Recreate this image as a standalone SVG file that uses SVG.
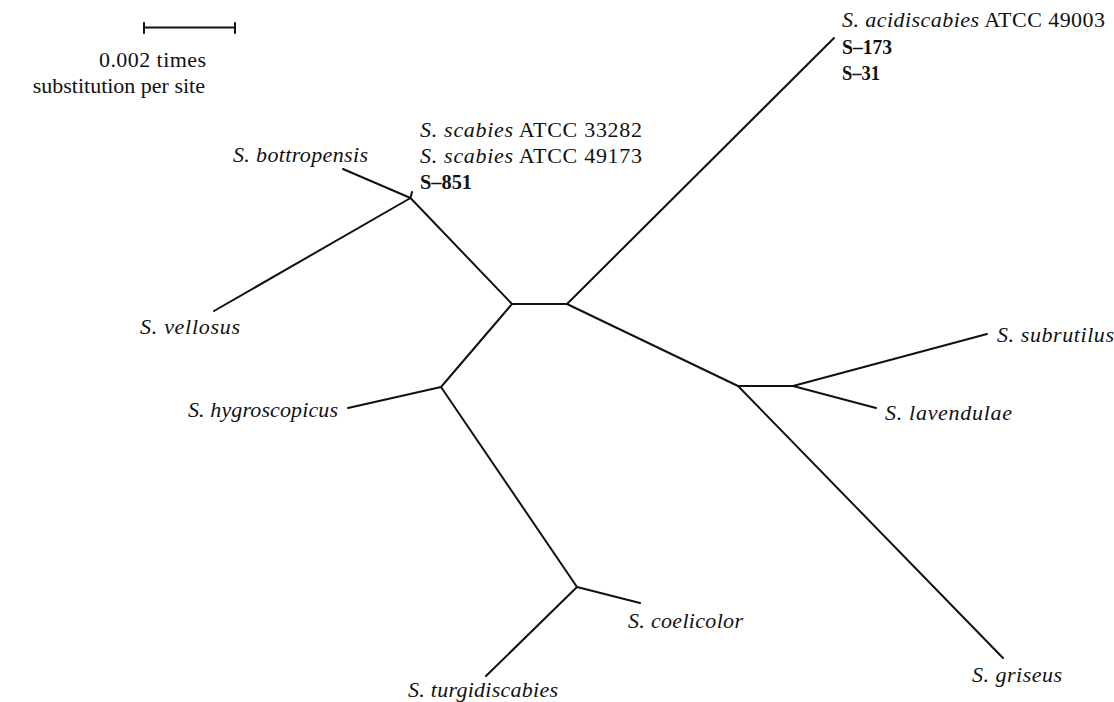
<svg xmlns="http://www.w3.org/2000/svg" width="1114" height="702" viewBox="0 0 1114 702">
<style>
text{font-family:"Liberation Serif","Times New Roman",serif;font-size:22px;fill:#111}
.i{font-style:italic}
.b{font-weight:bold;font-size:21px}
.e{stroke:#111;stroke-width:2;fill:none;stroke-linecap:round}
</style>
<rect width="1114" height="702" fill="#fff"/>
<g id="scale">
<path class="e" d="M144 27.5H235M144 23V33M235 23V33" stroke-width="1.6"/>
<text x="206" y="67" text-anchor="end" textLength="107">0.002 times</text>
<text x="205" y="93" text-anchor="end">substitution per site</text>
</g>
<g id="connectors">
<path class="e" d="M343 169L410.5 198M214 311L410.5 198M410.5 198L412 192M410.5 198L512 304M512 304H567M567 304L834 38M567 304L738 386M738 386H793M793 386L987 334M793 386L876 408M738 386L1003 658M512 304L441 387M441 387L348 408M441 387L577 587M577 587L640 603M577 587L486 676"/>
</g>
<g id="n-bottropensis"><text class="i" x="233" y="162" textLength="135">S. bottropensis</text></g>
<g id="n-scabies">
<text x="420" y="137" textLength="222"><tspan class="i">S. scabies</tspan> ATCC 33282</text>
<text x="420" y="163" textLength="222"><tspan class="i">S. scabies</tspan> ATCC 49173</text>
<text class="b" x="420" y="189" textLength="52" lengthAdjust="spacingAndGlyphs">S–851</text>
</g>
<g id="n-acidiscabies">
<text x="842" y="27" textLength="263"><tspan class="i">S. acidiscabies</tspan> ATCC 49003</text>
<text class="b" x="842" y="54" textLength="50" lengthAdjust="spacingAndGlyphs">S–173</text>
<text class="b" x="842" y="80" textLength="38" lengthAdjust="spacingAndGlyphs">S–31</text>
</g>
<g id="n-vellosus"><text class="i" x="240" y="334" text-anchor="end" textLength="100">S. vellosus</text></g>
<g id="n-hygroscopicus"><text class="i" x="188" y="417" textLength="150">S. hygroscopicus</text></g>
<g id="n-subrutilus"><text class="i" x="997" y="342" textLength="117">S. subrutilus</text></g>
<g id="n-lavendulae"><text class="i" x="885" y="420" textLength="127">S. lavendulae</text></g>
<g id="n-coelicolor"><text class="i" x="628" y="628" textLength="115">S. coelicolor</text></g>
<g id="n-turgidiscabies"><text class="i" x="408" y="697" textLength="150">S. turgidiscabies</text></g>
<g id="n-griseus"><text class="i" x="972" y="682" textLength="90">S. griseus</text></g>
</svg>
